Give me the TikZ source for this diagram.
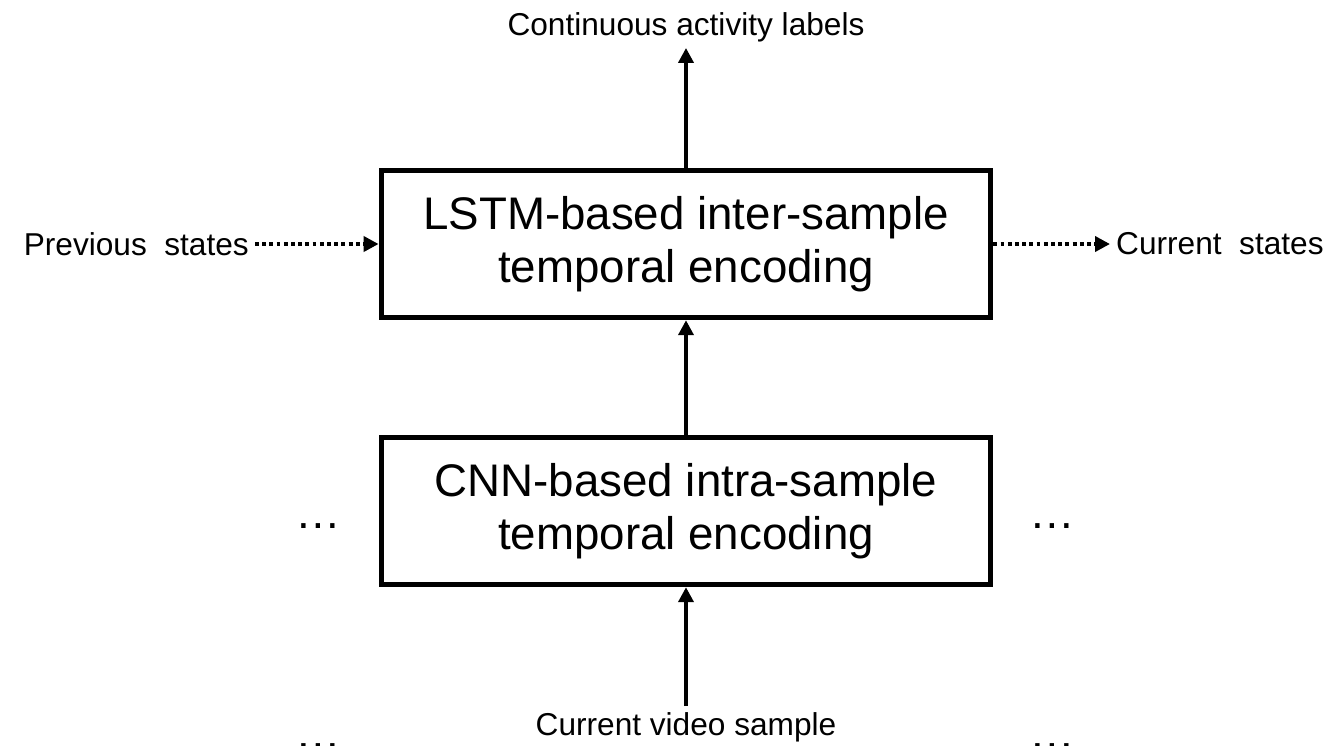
\documentclass[tikz,border=0pt]{standalone}
\usepackage{fontspec}
\setmainfont{Liberation Sans}
\usepackage{tikz}
\usetikzlibrary{arrows.meta, positioning}

\begin{document}
\begin{tikzpicture}[x=0.02cm, y=-0.02cm, >={Triangle[length=8.5pt,width=8.5pt]}]
    \tikzset{
        encbox/.style={draw, line width=2.8pt, minimum width=12.2cm, minimum height=2.95cm,
            align=center, font=\fontsize{26}{30}\selectfont},
        smalltxt/.style={font=\fontsize{18}{21}\selectfont},
        dots/.style={anchor=base, font=\fontsize{26}{28}\selectfont},
        flow/.style={->, line width=2.3pt},
        statefl/.style={->, line width=2.2pt, dash pattern=on 2.2pt off 1.9pt}
    }
    \useasboundingbox (0,0) rectangle (1329,745);

    % Hai khối mã hóa
    \node[encbox] (lstm) at (686,244) {LSTM-based inter-sample\\temporal encoding};
    \node[encbox] (cnn) at (686,511) {CNN-based intra-sample\\temporal encoding};

    % Nhãn vào / ra
    \node[smalltxt] (labels) at (686,27) {Continuous activity labels};
    \node[smalltxt] (video) at (686,727) {Current video sample};
    \node[smalltxt, anchor=east] (prev) at (255,244) {Previous\ \ states};
    \node[smalltxt, anchor=west] (cur) at (1110,244) {Current\ \ states};

    % Dấu ba chấm
    \node[dots] (dl1) at (318,528) {…};
    \node[dots] (dr1) at (1052,528) {…};
    \node[dots] (dl2) at (318,748) {…};
    \node[dots] (dr2) at (1052,748) {…};

    % Mũi tên
    \draw[flow] (lstm.north) -- (labels.south);
    \draw[flow] (cnn.north) -- (lstm.south);
    \draw[flow] (video.north) -- (cnn.south);
    \draw[statefl] (prev.east) -- (lstm.west);
    \draw[statefl] (lstm.east) -- (cur.west);
\end{tikzpicture}
\end{document}
